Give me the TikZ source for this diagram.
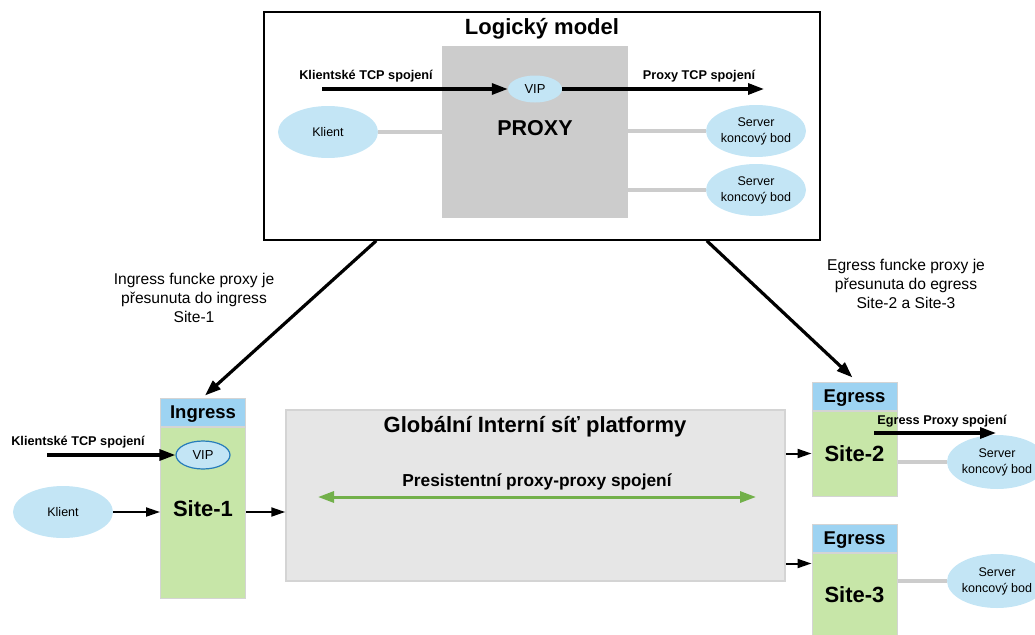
\documentclass[tikz,border=0pt]{standalone}
\usepackage{fontspec}
\setmainfont{Liberation Sans}
\usepackage{xcolor}
\usepackage{tikz}
\usetikzlibrary{arrows.meta,positioning,shapes.geometric}

\definecolor{bubblecol}{RGB}{195,229,245}
\definecolor{headcol}{RGB}{157,211,242}
\definecolor{sitecol}{RGB}{199,230,168}
\definecolor{proxycol}{RGB}{204,204,204}
\definecolor{netcol}{RGB}{230,230,230}
\definecolor{edgecol}{RGB}{212,212,212}
\definecolor{persistcol}{RGB}{114,176,74}
\definecolor{vipedge}{RGB}{38,124,186}

\newcommand{\fs}[2]{\fontsize{#1}{#2}\selectfont}

\begin{document}
\begin{tikzpicture}[
    x=1pt, y=-1pt,
    every node/.style={font=\fs{12.5}{16}},
    bubble/.style={
        ellipse, fill=bubblecol, inner sep=0pt, align=center,
        minimum width=100pt, minimum height=52pt
    },
    head/.style={
        rectangle, fill=headcol, draw=edgecol, line width=1pt, inner sep=0pt,
        minimum width=85pt, minimum height=28pt, font=\bfseries\fs{18.5}{22},
        text height=13.3pt, text depth=0pt
    },
    body/.style={
        rectangle, fill=sitecol, draw=edgecol, line width=1pt, inner sep=0pt,
        minimum width=85pt
    },
    sitename/.style={font=\bfseries\fs{22}{26}, text height=15.8pt, text depth=0pt},
    title/.style={font=\bfseries\fs{22}{25}, text height=15.8pt, text depth=0pt},
    conn/.style={font=\bfseries\fs{12.7}{15}},
    note/.style={align=center, font=\fs{15.6}{18.7}},
    thick arrow/.style={line width=3.2pt, -{Triangle[length=16pt,width=11pt]}},
    thin arrow/.style={line width=2pt, -{Triangle[length=14pt,width=9pt]}},
    link/.style={line width=4pt, proxycol}
]
\useasboundingbox (0,0) rectangle (1035,634);

% --- Logical model (top)
\node[draw=black, line width=1.5pt, inner sep=0pt,
      minimum width=556pt, minimum height=228pt] (logic) at (542,126) {};
\node[title] (logictitle) at (542,27) {Logický model};
\node[fill=proxycol, minimum width=186pt, minimum height=172pt] (proxy) at (535,132) {};
\node[title, font=\bfseries\fs{21.5}{25}] (proxytext) at (535,128) {PROXY};
\node[bubble, minimum width=54pt, minimum height=27pt, font=\fs{13}{15}] (vip) at (535,89) {VIP};

\coordinate (clientstart) at (322,89);
\coordinate (proxyend) at (764,89);
\draw[thick arrow] (clientstart) -- (vip.west);
\draw[thick arrow] (vip.east) -- (proxyend);
\node[conn] (clienttcp) at (366,76) {Klientské TCP spojení};
\node[conn] (proxytcp) at (699,76) {Proxy TCP spojení};

\node[bubble] (client) at (328,132) {Klient};
\draw[link] (client.east) -- (client.east -| proxy.west);
\foreach \i/\y in {1/131, 2/190} {
  \node[bubble] (server\i) at (756,\y) {Server\\koncový bod};
  \draw[link] (server\i.west -| proxy.east) -- (server\i.west);
}

% Notes beside the big arrows
\node[note] (ingressnote) at (194,298) {Ingress funcke proxy je\\přesunuta do ingress\\Site-1};
\node[note] (egressnote) at (906,284) {Egress funcke proxy je\\přesunuta do egress\\Site-2 a Site-3};

% --- Global network
\node[fill=netcol, draw=edgecol, line width=1.5pt, inner sep=0pt,
      minimum width=499pt, minimum height=171pt] (net) at (535.5,495.5) {};
\node[title] (nettitle) at (535,425) {Globální Interní síť platformy};
\coordinate (persistleft) at (318,497);
\coordinate (persistright) at (756,497);
\draw[line width=3pt, persistcol,
      {Triangle[length=16pt,width=11pt]}-{Triangle[length=16pt,width=11pt]}]
      (persistleft) -- (persistright);
\node[font=\bfseries\fs{17.3}{20}] (persisttext) at (537,482) {Presistentní proxy-proxy spojení};

% --- Sites
\node[head] (head1) at (203,412) {Ingress};
\node[body, minimum height=171pt, below=0pt of head1] (body1) {};
\node[sitename] at ([yshift=4pt]body1.center) {Site-1};

\node[head] (head2) at (854.5,396) {Egress};
\node[body, minimum height=85pt, below=0pt of head2] (body2) {};
\node[sitename] at (body2.center) {Site-2};

\node[head] (head3) at (854.5,538) {Egress};
\node[body, minimum height=84pt, below=0pt of head3] (body3) {};
\node[sitename] at (body3.center) {Site-3};

% Ingress side
\node[bubble, draw=vipedge, line width=1.2pt, minimum width=54pt,
      minimum height=28pt, font=\fs{13}{15}] (vip1) at (203,455) {VIP};
\coordinate (clientstart1) at (47,455);
\draw[thick arrow] (clientstart1) -- (vip1.west);
\node[conn] (clienttcp1) at (78,442) {Klientské TCP spojení};

\node[bubble] (client1) at (63,512) {Klient};
\draw[thin arrow] (client1.east) -- (client1.east -| body1.west);
\draw[thin arrow] (client1.east -| body1.east) -- (client1.east -| net.west);

% Egress side
\draw[thin arrow] (body2.west -| net.east) -- (body2.west);
\coordinate (entry3) at ([yshift=-11pt]body3.north west);
\draw[thin arrow] (entry3 -| net.east) -- (entry3);

\foreach \j/\y in {2/462, 3/581} {
  \node[bubble, minimum height=54pt] (endpoint\j) at (997,\y) {Server\\koncový bod};
  \draw[link] (body\j.east |- endpoint\j.west) -- (endpoint\j.west);
}
\coordinate (egressstart) at (874,433);
\coordinate (egressend) at (996,433);
\draw[thick arrow] (egressstart) -- (egressend);
\node[conn] (egresstcp) at (942,421) {Egress Proxy spojení};

% Model -> sites
\draw[thick arrow] ([xshift=113pt]logic.south west) -- ([xshift=2pt,yshift=2pt]head1.north);
\draw[thick arrow] ([xshift=-114pt]logic.south east) -- ([xshift=-2pt,yshift=4pt]head2.north);
\end{tikzpicture}
\end{document}
